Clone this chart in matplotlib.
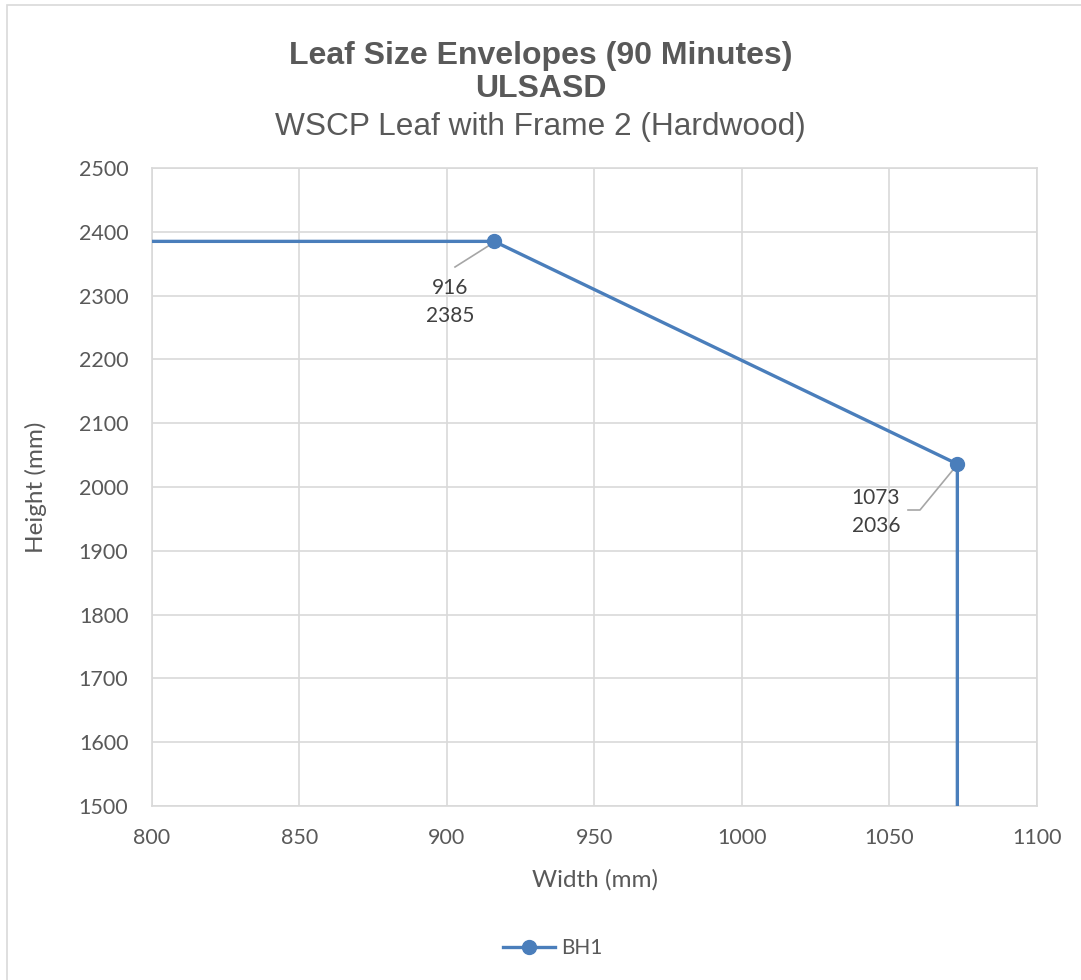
import matplotlib.pyplot as plt
from matplotlib.patches import Rectangle

# envelope outline for BH1 (width, height in mm)
width_mm = [800, 916, 1073, 1073]
height_mm = [2385, 2385, 2036, 1500]
marked = [1, 2]

x_ticks = [800, 850, 900, 950, 1000, 1050, 1100]
y_ticks = [1500, 1600, 1700, 1800, 1900, 2000, 2100, 2200, 2300, 2400, 2500]

BLUE = '#4a7ebb'
GREY_TXT = '#595959'
GRID = '#d9d9d9'
TICK_FONT = 'Lato'

W, H = 1081, 980
fig = plt.figure(figsize=(W / 100, H / 100), dpi=100)
ax = fig.add_axes([152 / W, 1 - 806 / H, (1037 - 152) / W, (806 - 168) / H])

# outer chart frame
fig.patches.append(Rectangle((7 / W, -0.1), 1.2, 1 - 5 / H + 0.1, transform=fig.transFigure,
                             fill=False, edgecolor=GRID, linewidth=1.2))

ax.plot(width_mm, height_mm, color=BLUE, linewidth=2.4, marker='o', markersize=10,
        markevery=marked, solid_joinstyle='round', zorder=3)

ax.set_xlim(800, 1100)
ax.set_ylim(1500, 2500)
ax.set_xticks(x_ticks)
ax.set_yticks(y_ticks)
ax.grid(True, color=GRID, linewidth=1.2)
ax.set_axisbelow(True)
for s in ax.spines.values():
    s.set_color(GRID)
    s.set_linewidth(1.2)
ax.tick_params(length=0, labelcolor=GREY_TXT, labelsize=15.5)
ax.tick_params(axis='x', pad=16)
ax.tick_params(axis='y', pad=17)
for lab in ax.get_xticklabels() + ax.get_yticklabels():
    lab.set_fontfamily(TICK_FONT)

ax.set_xlabel('Width (mm)', fontsize=17.5, color=GREY_TXT, family=TICK_FONT, labelpad=15)
ax.set_ylabel('Height (mm)', fontsize=17.5, color=GREY_TXT, family=TICK_FONT, labelpad=23)

# data labels with leader lines
lbl = dict(textcoords='figure pixels', ha='center', va='center', fontsize=15,
           family=TICK_FONT, color='#404040', linespacing=1.45)
ax.annotate(f'{width_mm[1]}\n{height_mm[1]}', xy=(width_mm[1], height_mm[1]),
            xytext=(450, H - 302), **lbl)
ax.plot([455, 493], [H - 267, H - 243], transform=None, color='#a6a6a6', lw=1.2)
ax.annotate(f'{width_mm[2]}\n{height_mm[2]}', xy=(width_mm[2], height_mm[2]),
            xytext=(876, H - 512), **lbl)
ax.plot([908, 920, 957], [H - 510, H - 510, H - 465], transform=None, color='#a6a6a6', lw=1.2)

fig.text(0.5, 1 - 56 / H, 'Leaf Size Envelopes (90 Minutes)', ha='center', va='center',
         fontsize=23, fontweight='bold', color=GREY_TXT, family='Liberation Sans')
fig.text(0.5, 1 - 89 / H, 'ULSASD', ha='center', va='center',
         fontsize=23, fontweight='bold', color=GREY_TXT, family='Liberation Sans')
fig.text(0.5, 1 - 127 / H, 'WSCP Leaf with Frame 2 (Hardwood)', ha='center', va='center',
         fontsize=22.8, color=GREY_TXT, family='Liberation Sans')

leg = ax.legend(['BH1'], loc='center', bbox_to_anchor=(553 / W, 1 - 948 / H),
                bbox_transform=fig.transFigure, frameon=False, fontsize=15,
                handlelength=2.5, handletextpad=0.3)
for t in leg.get_texts():
    t.set_color(GREY_TXT)
    t.set_fontfamily(TICK_FONT)

fig.savefig('out.png', dpi=100)
